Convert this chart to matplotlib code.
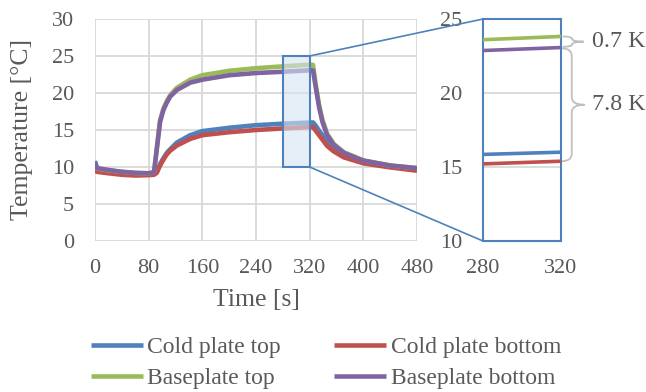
import numpy as np
import matplotlib.pyplot as plt
from matplotlib.patches import Rectangle, ConnectionPatch, PathPatch
from matplotlib.path import Path
import matplotlib.transforms as mtransforms

# time axis [s], shared by all four sensors
time_s = [0, 3, 20, 40, 60, 80, 88, 92, 97, 102, 107, 112, 122, 142, 160, 200,
          240, 280, 320, 325, 329, 334, 339, 346, 356, 371, 400, 440, 480]

cold_top = [10.8, 9.75, 9.5, 9.3, 9.15, 9.1, 9.05, 9.3, 10.4, 11.2, 11.9, 12.4, 13.3, 14.3,
            14.85, 15.3, 15.65, 15.85, 16.0, 16.02, 15.6, 14.9, 14.3, 13.4, 12.6, 11.8,
            10.85, 10.15, 9.7]
cold_bottom = [9.5, 9.35, 9.15, 8.95, 8.85, 8.9, 8.95, 9.2, 10.2, 11.0, 11.7, 12.2, 12.9, 13.8,
               14.3, 14.7, 15.0, 15.21, 15.39, 15.4, 14.9, 14.3, 13.7, 12.85, 12.1, 11.3,
               10.5, 9.95, 9.5]
base_top = [10.4, 9.8, 9.55, 9.35, 9.2, 9.15, 9.3, 12.5, 16.3, 17.9, 18.9, 19.7, 20.7, 21.8,
            22.4, 23.0, 23.35, 23.6, 23.82, 23.8, 21.2, 18.4, 16.4, 14.5, 13.1, 12.0,
            10.9, 10.2, 9.85]
base_bottom = [10.6, 9.85, 9.6, 9.35, 9.2, 9.15, 9.3, 12.3, 16.1, 17.7, 18.7, 19.5, 20.4, 21.4,
               21.8, 22.4, 22.7, 22.87, 23.07, 23.05, 20.8, 18.1, 16.1, 14.3, 13.0, 11.9,
               10.85, 10.2, 9.85]

series = [("Cold plate top", cold_top, "#4F81BD"),
          ("Cold plate bottom", cold_bottom, "#C0504D"),
          ("Baseplate top", base_top, "#9BBB59"),
          ("Baseplate bottom", base_bottom, "#8064A2")]

zoom_t = (280, 320)
zoom_T = (10, 25)

txt = "#595959"
grid_c = "#d9d9d9"
box_c = "#4F81BD"
plt.rcParams["font.family"] = ["Liberation Serif", "DejaVu Serif"]

fig = plt.figure(figsize=(6.46, 3.92), dpi=100)
ax = fig.add_axes([95 / 646, 1 - 241 / 392, 322 / 646, 222 / 392])
axz = fig.add_axes([483 / 646, 1 - 241 / 392, 77.5 / 646, 222 / 392])

# main chart
lines = []
for name, vals, col in series:
    ln, = ax.plot(time_s, vals, color=col, lw=3.3, label=name, solid_capstyle="butt", zorder=3)
    lines.append(ln)
ax.set_xlim(0, 480)
ax.set_ylim(0, 30)
ax.set_xticks(np.arange(0, 481, 80))
ax.set_yticks(np.arange(0, 31, 5))
ax.grid(True, color=grid_c, lw=1.3)
ax.set_axisbelow(True)
for s in ax.spines.values():
    s.set_visible(False)
ax.tick_params(length=0, colors=txt, labelsize=16)
ax.tick_params(axis="y", pad=15)
ax.tick_params(axis="x", pad=13)
ax.set_xlabel("Time [s]", color=txt, fontsize=18.5, va="center")
ax.set_ylabel("Temperature [°C]", color=txt, fontsize=18.5, va="center")
ax.xaxis.set_label_coords(0.5, -0.266)
ax.yaxis.set_label_coords(-0.228, 0.5)

# highlighted window
ax.add_patch(Rectangle((zoom_t[0], zoom_T[0]), zoom_t[1] - zoom_t[0], zoom_T[1] - zoom_T[0],
                       facecolor=(0.84, 0.89, 0.95, 0.6), edgecolor=box_c, lw=1.5, zorder=4))

# zoomed chart
for name, vals, col in series:
    axz.plot(time_s, vals, color=col, lw=2.6, solid_capstyle="butt", zorder=3)
axz.set_xlim(*zoom_t)
axz.set_ylim(*zoom_T)
axz.set_xticks(list(zoom_t))
axz.set_yticks(np.arange(10, 26, 5))
axz.grid(True, axis="y", color=grid_c, lw=1.3)
axz.set_axisbelow(True)
for s in axz.spines.values():
    s.set_color(box_c)
    s.set_linewidth(1.5)
axz.tick_params(length=0, colors=txt, labelsize=16)
axz.tick_params(axis="y", pad=15)
axz.tick_params(axis="x", pad=13)

for yv in zoom_T:
    con = ConnectionPatch(xyA=(zoom_t[1], yv), coordsA=ax.transData,
                          xyB=(zoom_t[0], yv), coordsB=axz.transData,
                          color=box_c, lw=1.2)
    fig.add_artist(con)

# curly braces at the right of the zoom window
def brace(y0, y1, x0, w, r):
    ym = (y0 + y1) / 2
    xm = x0 + w * 0.45
    verts = [(x0, y0), (xm, y0), (xm, y0 + r),
             (xm, ym - r), (xm, ym), (x0 + w, ym),
             (xm, ym), (xm, ym + r),
             (xm, y1 - r), (xm, y1), (x0, y1)]
    codes = [Path.MOVETO, Path.CURVE3, Path.CURVE3,
             Path.LINETO, Path.CURVE3, Path.CURVE3,
             Path.CURVE3, Path.CURVE3,
             Path.LINETO, Path.CURVE3, Path.CURVE3]
    tr = mtransforms.blended_transform_factory(axz.transAxes, axz.transData)
    axz.add_patch(PathPatch(Path(verts, codes), transform=tr, fill=False,
                            edgecolor="#bfbfbf", lw=1.3, clip_on=False))
    return tr, ym

tr, ym = brace(base_bottom[18] + 0.05, base_top[18], 1.03, 0.27, 0.18)
axz.text(1.41, ym, "0.7 K", transform=tr, color=txt, fontsize=17.3, va="center", ha="left")
tr, ym = brace(cold_bottom[18], base_bottom[18] - 0.05, 1.01, 0.3, 0.5)
axz.text(1.41, ym, "7.8 K", transform=tr, color=txt, fontsize=17.3, va="center", ha="left")

# legend filled row by row: cold plate on first row, baseplate on second
order = [0, 2, 1, 3]
fig.legend(handles=[lines[i] for i in order], loc="center left",
           bbox_to_anchor=(79 / 646, 1 - 363 / 392), borderpad=0,
           ncol=2, frameon=False, fontsize=17, handlelength=2.2, handletextpad=0.2,
           columnspacing=2.25, labelspacing=0.42, labelcolor=txt)

fig.savefig("out.png", dpi=100)
